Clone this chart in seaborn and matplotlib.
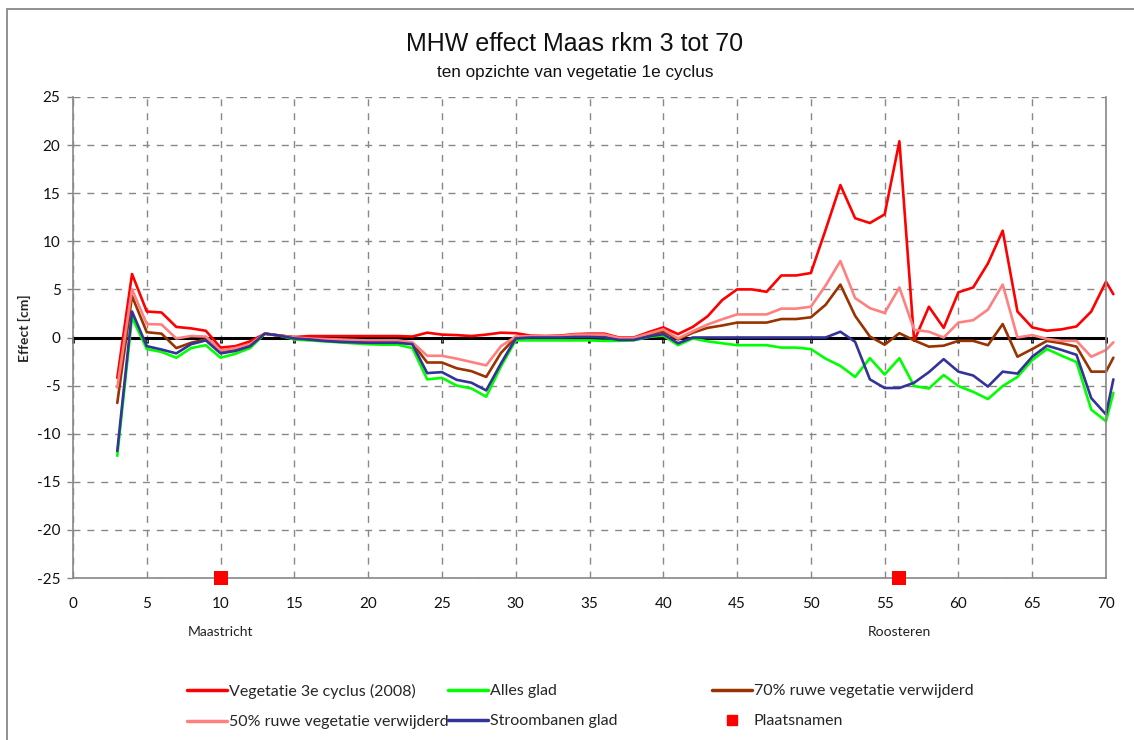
import pandas as pd
import seaborn as sns
import matplotlib.pyplot as plt
from matplotlib.lines import Line2D
from matplotlib.patches import Rectangle

sns.set_theme(style="white")
plt.rcParams["font.family"] = ["Lato", "DejaVu Sans"]
plt.rcParams["axes.unicode_minus"] = False

# --- data: rivierkilometer and effect [cm] per scenario ---
rkm = list(range(3, 71)) + [70.5]

veg3 = [-4.2, 6.6, 2.7, 2.6, 1.1, 0.95, 0.7, -1.05, -0.9, -0.4,
        0.4, 0.2, 0.05, 0.15, 0.15, 0.15, 0.15, 0.15, 0.15, 0.15,
        0.1, 0.5, 0.3, 0.25, 0.15, 0.3, 0.5, 0.45, 0.2, 0.15,
        0.2, 0.35, 0.4, 0.4, 0.0, 0.0, 0.55, 1.05, 0.35, 1.1,
        2.2, 3.9, 5.0, 5.0, 4.75, 6.45, 6.45, 6.7, 11.2, 15.85,
        12.4, 11.9, 12.8, 20.4, -0.35, 3.2, 1.0, 4.7, 5.2, 7.7,
        11.1, 2.7, 1.05, 0.7, 0.85, 1.15, 2.7, 5.8, 4.5]

alles_glad = [-12.3, 2.1, -1.2, -1.5, -2.1, -1.1, -0.8, -2.1, -1.7, -1.1,
              0.4, 0.2, -0.2, -0.3, -0.4, -0.5, -0.6, -0.7, -0.75, -0.75,
              -1.1, -4.35, -4.2, -5.0, -5.3, -6.15, -3.0, -0.3, -0.3, -0.3,
              -0.3, -0.3, -0.3, -0.35, -0.35, -0.3, 0.05, 0.2, -0.8, -0.1,
              -0.4, -0.6, -0.8, -0.8, -0.8, -1.05, -1.05, -1.2, -2.2, -2.95,
              -4.1, -2.15, -3.85, -2.15, -5.05, -5.3, -3.9, -5.05, -5.65, -6.4,
              -5.05, -4.1, -2.35, -1.2, -1.9, -2.55, -7.5, -8.7, -5.75]

ruw70 = [-6.8, 4.3, 0.55, 0.4, -1.1, -0.55, -0.2, -1.4, -1.2, -0.7,
         0.4, 0.2, 0.0, -0.2, -0.3, -0.35, -0.4, -0.45, -0.45, -0.45,
         -0.6, -2.6, -2.6, -3.2, -3.5, -4.1, -1.6, 0.0, 0.1, 0.1,
         0.1, 0.2, 0.2, 0.2, -0.1, -0.15, 0.3, 0.6, -0.2, 0.5,
         1.0, 1.25, 1.55, 1.55, 1.55, 1.92, 1.92, 2.1, 3.4, 5.5,
         2.25, 0.1, -0.75, 0.45, -0.3, -0.95, -0.85, -0.35, -0.35, -0.8,
         1.4, -2.0, -1.2, -0.35, -0.6, -0.95, -3.55, -3.55, -2.1]

ruw50 = [-5.2, 5.0, 1.4, 1.35, -0.1, 0.15, 0.1, -1.35, -1.1, -0.7,
         0.4, 0.2, 0.0, -0.1, -0.15, -0.2, -0.25, -0.3, -0.3, -0.3,
         -0.5, -1.9, -1.9, -2.2, -2.55, -2.9, -0.9, 0.1, 0.15, 0.15,
         0.15, 0.3, 0.3, 0.3, -0.05, -0.05, 0.4, 0.85, -0.1, 0.65,
         1.35, 1.9, 2.4, 2.4, 2.4, 3.0, 3.0, 3.2, 5.4, 7.95,
         4.1, 3.05, 2.55, 5.2, 0.8, 0.6, 0.0, 1.55, 1.8, 2.9,
         5.5, 0.0, 0.25, -0.15, -0.35, -0.35, -2.0, -1.3, -0.5]

stroombanen = [-11.8, 2.7, -0.9, -1.25, -1.65, -0.7, -0.3, -1.65, -1.4, -0.9,
               0.4, 0.2, -0.1, -0.2, -0.35, -0.45, -0.5, -0.55, -0.55, -0.55,
               -0.7, -3.7, -3.6, -4.4, -4.7, -5.5, -2.7, -0.1, 0.0, 0.0,
               0.0, 0.05, 0.05, 0.0, -0.25, -0.25, 0.1, 0.35, -0.6, 0.0,
               0.0, 0.0, 0.0, 0.0, 0.0, 0.0, 0.0, 0.0, 0.0, 0.6,
               -0.45, -4.35, -5.25, -5.25, -4.7, -3.6, -2.25, -3.55, -3.95, -5.1,
               -3.55, -3.75, -2.0, -0.85, -1.3, -1.8, -6.3, -8.0, -4.35]

plaats_km = [10, 56]
plaats_y = [-25, -25]
plaats_naam = ["Maastricht", "Roosteren"]

labels = ["Vegetatie 3e cyclus (2008)", "Alles glad", "70% ruwe vegetatie verwijderd",
          "50% ruwe vegetatie verwijderd", "Stroombanen glad"]
colors = ["#FF0000", "#00FF00", "#993300", "#FF8080", "#333399"]
series = [veg3, alles_glad, ruw70, ruw50, stroombanen]

df = pd.concat([pd.DataFrame({"rkm": rkm, "effect": s, "serie": lab})
                for s, lab in zip(series, labels)])

fig = plt.figure(figsize=(11.34, 7.4), dpi=100)
ax = fig.add_axes([73 / 1134, 1 - 578 / 740, 1033 / 1134, 481 / 740])

ax.axhline(0, color="black", lw=2.2, zorder=1)

sns.lineplot(data=df, x="rkm", y="effect", hue="serie", hue_order=labels,
             palette=colors, estimator=None, sort=False, lw=1.9, legend=False, ax=ax)
for ln in ax.lines[1:]:
    ln.set_clip_on(False)

pl = pd.DataFrame({"rkm": plaats_km, "y": plaats_y})
sns.scatterplot(data=pl, x="rkm", y="y", marker="s", s=100, color="#FF0000",
                edgecolor="none", ax=ax, zorder=5, clip_on=False)
for km, naam in zip(plaats_km, plaats_naam):
    ax.annotate(naam, (km, -25), xytext=(0, -39), textcoords="offset points",
                ha="center", va="center", fontsize=10, color="#222222")

ax.set_xlim(0, 70)
ax.set_ylim(-25, 25)
ax.set_xticks(range(0, 71, 5))
ax.set_yticks(range(-25, 26, 5))
ax.set_xlabel("")
ax.set_ylabel("Effect [cm]", fontsize=10, fontweight="bold")
ax.yaxis.set_label_coords(-0.041, 0.52)

ax.grid(True, color="#888888", linestyle=(0, (5, 5)), lw=1)
for side in ["left", "bottom", "right"]:
    ax.spines[side].set_color("#888888")
    ax.spines[side].set_linewidth(1.2)
ax.spines["top"].set_visible(False)
ax.tick_params(axis="x", length=0, pad=14, labelsize=11, colors="#111111")
ax.tick_params(axis="y", length=4, width=1, color="#888888", pad=5,
               labelsize=11, labelcolor="#111111", left=True)

# small tick marks below the zero line
sec = ax.secondary_xaxis(0.5)
sec.spines[["top", "bottom"]].set_visible(False)
sec.set_xticks(range(0, 71, 5))
sec.xaxis.set_ticks_position("bottom")
sec.tick_params(axis="x", length=4, width=2, color="black", direction="out",
                labelbottom=False, labeltop=False)

fig.text(575 / 1134, 1 - 44 / 740, "MHW effect Maas rkm 3 tot 70", ha="center", va="center",
         fontsize=18, family=["Liberation Sans", "DejaVu Sans"], color="#111111")
fig.text(575 / 1134, 1 - 72 / 740, "ten opzichte van vegetatie 1e cyclus", ha="center",
         va="center", fontsize=12.3, family=["Liberation Sans", "DejaVu Sans"], color="#111111")

# legend in three columns
handles = [Line2D([], [], color=c, lw=2.5) for c in colors]
handles.append(Line2D([], [], color="#FF0000", marker="s", ls="none", markersize=7.5))
all_labels = labels + ["Plaatsnamen"]
cols = [[0, 3], [1, 4], [2, 5]]
col_x = [187, 448, 712]
for idx, xpos in zip(cols, col_x):
    fig.legend([handles[i] for i in idx], [all_labels[i] for i in idx],
               loc="upper left", bbox_to_anchor=(xpos / 1134, 1 - 684 / 740),
               frameon=False, fontsize=11.5, handlelength=2.5, handletextpad=0.1,
               labelspacing=1.0, borderaxespad=0, borderpad=0)

fig.add_artist(Rectangle((7 / 1134, -0.1), 1.2, 1.1 - 9 / 740, transform=fig.transFigure,
                         fill=False, edgecolor="#888888", lw=1.3))

fig.savefig("out.png", dpi=100)
